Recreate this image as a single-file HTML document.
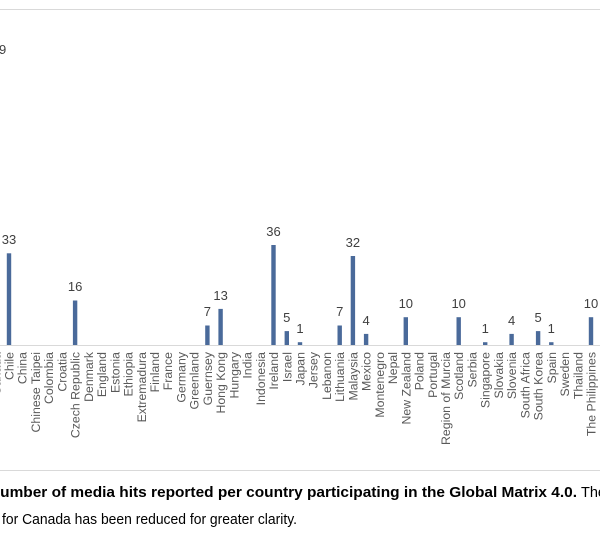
<!DOCTYPE html>
<html><head><meta charset="utf-8"><style>
html,body{margin:0;padding:0;background:#fff;width:600px;height:536px;overflow:hidden}
svg{display:block}
</style></head><body>
<svg width="600" height="536" viewBox="0 0 600 536" xmlns="http://www.w3.org/2000/svg" font-family="Liberation Sans, sans-serif">
<line x1="0" y1="9.5" x2="600" y2="9.5" stroke="#d9d9d9" stroke-width="1"/>
<line x1="0" y1="470.5" x2="600" y2="470.5" stroke="#d9d9d9" stroke-width="1"/>
<line x1="0" y1="345.5" x2="600" y2="345.5" stroke="#d9d9d9" stroke-width="1"/>
<g fill="#4a6a9a">
<rect x="6.8" y="253.3" width="4.4" height="91.7"/>
<rect x="72.9" y="300.5" width="4.4" height="44.5"/>
<rect x="205.2" y="325.5" width="4.4" height="19.5"/>
<rect x="218.4" y="308.9" width="4.4" height="36.1"/>
<rect x="271.3" y="245" width="4.4" height="100"/>
<rect x="284.6" y="331.1" width="4.4" height="13.9"/>
<rect x="297.8" y="342.2" width="4.4" height="2.8"/>
<rect x="337.5" y="325.5" width="4.4" height="19.5"/>
<rect x="350.7" y="256" width="4.4" height="89"/>
<rect x="363.9" y="333.9" width="4.4" height="11.1"/>
<rect x="403.6" y="317.2" width="4.4" height="27.8"/>
<rect x="456.5" y="317.2" width="4.4" height="27.8"/>
<rect x="483" y="342.2" width="4.4" height="2.8"/>
<rect x="509.4" y="333.9" width="4.4" height="11.1"/>
<rect x="535.9" y="331.1" width="4.4" height="13.9"/>
<rect x="549.1" y="342.2" width="4.4" height="2.8"/>
<rect x="588.8" y="317.2" width="4.4" height="27.8"/>
</g>
<g font-size="13" fill="#404040" text-anchor="middle">
<text x="-1" y="54">69</text>
<text x="9" y="244">33</text>
<text x="75.1" y="291">16</text>
<text x="207.4" y="316">7</text>
<text x="220.6" y="300">13</text>
<text x="273.5" y="236">36</text>
<text x="286.8" y="322">5</text>
<text x="300" y="333">1</text>
<text x="339.7" y="316">7</text>
<text x="352.9" y="247">32</text>
<text x="366.1" y="325">4</text>
<text x="405.8" y="308">10</text>
<text x="458.7" y="308">10</text>
<text x="485.2" y="333">1</text>
<text x="511.6" y="325">4</text>
<text x="538.1" y="322">5</text>
<text x="551.3" y="333">1</text>
<text x="591" y="308">10</text>
</g>
<g font-size="12.3" fill="#595959" text-anchor="end">
<text transform="translate(0.3,352) rotate(-90)">Canada</text>
<text transform="translate(13.5,352) rotate(-90)">Chile</text>
<text transform="translate(26.7,352) rotate(-90)">China</text>
<text transform="translate(40,352) rotate(-90)">Chinese Taipei</text>
<text transform="translate(53.2,352) rotate(-90)">Colombia</text>
<text transform="translate(66.4,352) rotate(-90)">Croatia</text>
<text transform="translate(79.6,352) rotate(-90)">Czech Republic</text>
<text transform="translate(92.9,352) rotate(-90)">Denmark</text>
<text transform="translate(106.1,352) rotate(-90)">England</text>
<text transform="translate(119.3,352) rotate(-90)">Estonia</text>
<text transform="translate(132.5,352) rotate(-90)">Ethiopia</text>
<text transform="translate(145.8,352) rotate(-90)">Extremadura</text>
<text transform="translate(159,352) rotate(-90)">Finland</text>
<text transform="translate(172.2,352) rotate(-90)">France</text>
<text transform="translate(185.5,352) rotate(-90)">Germany</text>
<text transform="translate(198.7,352) rotate(-90)">Greenland</text>
<text transform="translate(211.9,352) rotate(-90)">Guernsey</text>
<text transform="translate(225.1,352) rotate(-90)">Hong Kong</text>
<text transform="translate(238.4,352) rotate(-90)">Hungary</text>
<text transform="translate(251.6,352) rotate(-90)">India</text>
<text transform="translate(264.8,352) rotate(-90)">Indonesia</text>
<text transform="translate(278,352) rotate(-90)">Ireland</text>
<text transform="translate(291.3,352) rotate(-90)">Israel</text>
<text transform="translate(304.5,352) rotate(-90)">Japan</text>
<text transform="translate(317.7,352) rotate(-90)">Jersey</text>
<text transform="translate(331,352) rotate(-90)">Lebanon</text>
<text transform="translate(344.2,352) rotate(-90)">Lithuania</text>
<text transform="translate(357.4,352) rotate(-90)">Malaysia</text>
<text transform="translate(370.6,352) rotate(-90)">Mexico</text>
<text transform="translate(383.9,352) rotate(-90)">Montenegro</text>
<text transform="translate(397.1,352) rotate(-90)">Nepal</text>
<text transform="translate(410.3,352) rotate(-90)">New Zealand</text>
<text transform="translate(423.5,352) rotate(-90)">Poland</text>
<text transform="translate(436.8,352) rotate(-90)">Portugal</text>
<text transform="translate(450,352) rotate(-90)">Region of Murcia</text>
<text transform="translate(463.2,352) rotate(-90)">Scotland</text>
<text transform="translate(476.5,352) rotate(-90)">Serbia</text>
<text transform="translate(489.7,352) rotate(-90)">Singapore</text>
<text transform="translate(502.9,352) rotate(-90)">Slovakia</text>
<text transform="translate(516.1,352) rotate(-90)">Slovenia</text>
<text transform="translate(529.4,352) rotate(-90)">South Africa</text>
<text transform="translate(542.6,352) rotate(-90)">South Korea</text>
<text transform="translate(555.8,352) rotate(-90)">Spain</text>
<text transform="translate(569,352) rotate(-90)">Sweden</text>
<text transform="translate(582.3,352) rotate(-90)">Thailand</text>
<text transform="translate(595.5,352) rotate(-90)">The Philippines</text>
</g>
<text x="-11" y="497" font-size="14.5" font-weight="bold" fill="#000" textLength="588" lengthAdjust="spacingAndGlyphs">Number of media hits reported per country participating in the Global Matrix 4.0.</text>
<text x="581" y="497" font-size="14.5" fill="#000">The</text>
<text x="2" y="524" font-size="14.5" fill="#000" textLength="295" lengthAdjust="spacingAndGlyphs">for Canada has been reduced for greater clarity.</text>
</svg>
</body></html>
